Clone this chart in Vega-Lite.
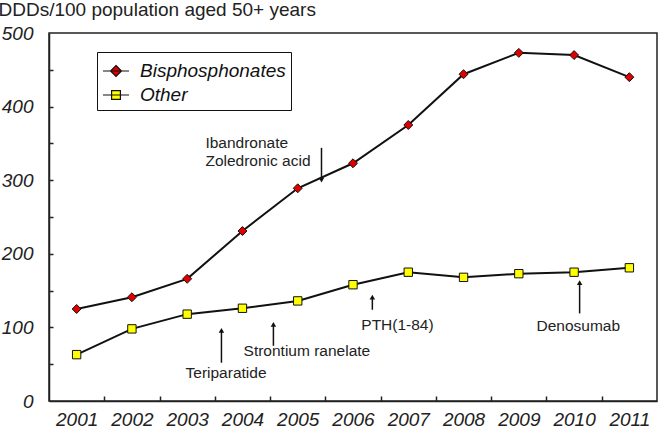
{
  "$schema": "https://vega.github.io/schema/vega-lite/v6.json",
  "width": 608,
  "height": 368,
  "autosize": {"type": "none"},
  "padding": {"left": 49, "top": 33, "right": 1, "bottom": 30},
  "background": "white",
  "config": {
    "font": "Liberation Sans",
    "view": {"stroke": "#222", "strokeWidth": 1.5},
    "axis": {"grid": false, "zindex": 1, "domainColor": "#222", "domainWidth": 1.5, "tickColor": "#222", "tickWidth": 1.5, "labelColor": "#222", "labelFont": "Liberation Sans", "labelFontSize": 19, "labelFontStyle": "italic"}
  },
  "resolve": {"axis": {"x": "independent", "y": "independent"}},
  "datasets": {
    "series": [
      {"year": 2001, "series": "Bisphosphonates", "value": 125},
      {"year": 2002, "series": "Bisphosphonates", "value": 141},
      {"year": 2003, "series": "Bisphosphonates", "value": 166},
      {"year": 2004, "series": "Bisphosphonates", "value": 231},
      {"year": 2005, "series": "Bisphosphonates", "value": 289},
      {"year": 2006, "series": "Bisphosphonates", "value": 323},
      {"year": 2007, "series": "Bisphosphonates", "value": 375},
      {"year": 2008, "series": "Bisphosphonates", "value": 444},
      {"year": 2009, "series": "Bisphosphonates", "value": 473},
      {"year": 2010, "series": "Bisphosphonates", "value": 470},
      {"year": 2011, "series": "Bisphosphonates", "value": 440},
      {"year": 2001, "series": "Other", "value": 63},
      {"year": 2002, "series": "Other", "value": 98},
      {"year": 2003, "series": "Other", "value": 118},
      {"year": 2004, "series": "Other", "value": 126},
      {"year": 2005, "series": "Other", "value": 136},
      {"year": 2006, "series": "Other", "value": 158},
      {"year": 2007, "series": "Other", "value": 175},
      {"year": 2008, "series": "Other", "value": 168},
      {"year": 2009, "series": "Other", "value": 173},
      {"year": 2010, "series": "Other", "value": 175},
      {"year": 2011, "series": "Other", "value": 181}
    ],
    "arrows": [
      {"x": 2005.43, "from": 344, "to": 300, "dir": "down"},
      {"x": 2003.62, "from": 52, "to": 96, "dir": "up"},
      {"x": 2004.56, "from": 75, "to": 104, "dir": "up"},
      {"x": 2006.35, "from": 124, "to": 141, "dir": "up"},
      {"x": 2010.1, "from": 119, "to": 161, "dir": "up"}
    ],
    "notes": [
      {"x": 2003.33, "y": 350.5, "text": "Ibandronate"},
      {"x": 2003.33, "y": 326, "text": "Zoledronic acid"},
      {"x": 2002.97, "y": 38, "text": "Teriparatide"},
      {"x": 2004.02, "y": 68, "text": "Strontium ranelate"},
      {"x": 2006.15, "y": 103, "text": "PTH(1-84)"},
      {"x": 2009.32, "y": 102, "text": "Denosumab"}
    ]
  },
  "layer": [
    {
      "data": {"name": "series"},
      "mark": {"type": "line", "color": "#111", "strokeWidth": 2},
      "encoding": {
        "x": {
          "field": "year", "type": "quantitative",
          "scale": {"domain": [2000.5, 2011.5], "nice": false, "zero": false},
          "axis": {
            "orient": "bottom",
            "title": null,
            "values": [2001, 2002, 2003, 2004, 2005, 2006, 2007, 2008, 2009, 2010, 2011],
            "labelExpr": "'' + datum.value",
            "labelOverlap": false,
            "labelFlush": false,
            "labelPadding": 9,
            "ticks": false
          }
        },
        "y": {
          "field": "value", "type": "quantitative",
          "scale": {"domain": [0, 500], "nice": false},
          "axis": {
            "orient": "left",
            "title": "DDDs/100 population aged 50+ years",
            "titleAngle": 0,
            "titleAlign": "left",
            "titleBaseline": "middle",
            "titleX": -51,
            "titleY": -24,
            "titleFont": "Liberation Sans",
            "titleFontSize": 19,
            "titleFontWeight": "normal",
            "titleColor": "#222",
            "values": [0, 100, 200, 300, 400, 500],
            "labelOverlap": false,
            "labelFlush": false,
            "labelPadding": 16,
            "ticks": false
          }
        },
        "detail": {"field": "series"}
      }
    },
    {
      "data": {"name": "series"},
      "mark": {"type": "point", "opacity": 0},
      "encoding": {
        "x": {
          "field": "year", "type": "quantitative",
          "axis": {
            "orient": "bottom",
            "title": null,
            "offset": -5,
            "domain": false,
            "labels": false,
            "ticks": true,
            "tickSize": 5,
            "values": [2001.5, 2002.5, 2003.5, 2004.5, 2005.5, 2006.5, 2007.5, 2008.5, 2009.5, 2010.5]
          }
        },
        "y": {
          "field": "value", "type": "quantitative",
          "axis": {
            "orient": "left",
            "title": null,
            "offset": -4,
            "domain": false,
            "labels": false,
            "ticks": true,
            "tickSize": 4,
            "values": [50, 100, 150, 200, 250, 300, 350, 400, 450]
          }
        }
      }
    },
    {
      "data": {"name": "series"},
      "transform": [{"filter": "datum.series == 'Bisphosphonates'"}],
      "mark": {"type": "point", "shape": "diamond", "filled": true, "stroke": "#111", "strokeWidth": 1, "opacity": 1, "size": 80},
      "encoding": {
        "x": {"field": "year", "type": "quantitative", "axis": null},
        "y": {"field": "value", "type": "quantitative", "axis": null},
        "fill": {
          "field": "series", "type": "nominal",
          "scale": {"domain": ["Bisphosphonates", "Other"], "range": ["#e00000", "#ffff00"]},
          "legend": {
            "title": null,
            "orient": "none",
            "legendX": 48,
            "legendY": 19,
            "padding": 5,
            "rowPadding": 0,
            "strokeColor": "#111",
            "fillColor": "white",
            "symbolSize": 676,
            "symbolStrokeWidth": 1.2,
            "symbolStrokeColor": "#111",
            "symbolOpacity": 1,
            "labelFont": "Liberation Sans",
            "labelFontSize": 19,
            "labelFontStyle": "italic",
            "labelColor": "#111",
            "labelOffset": 10,
            "encode": {
              "symbols": {
                "update": {
                  "shape": {"signal": "datum.value === 'Bisphosphonates' ? 'M-1,0L1,0M0,-0.42L0.42,0L0,0.42L-0.42,0Z' : 'M-1,0L1,0M-0.34,-0.34L0.34,-0.34L0.34,0.34L-0.34,0.34Z'"},
                  "stroke": {"value": "#111"},
                  "strokeWidth": {"value": 1.2},
                  "fillOpacity": {"value": 1}
                }
              }
            }
          }
        }
      }
    },
    {
      "data": {"name": "series"},
      "transform": [{"filter": "datum.series == 'Other'"}],
      "mark": {"type": "point", "shape": "square", "filled": true, "stroke": "#111", "strokeWidth": 1, "opacity": 1, "size": 70},
      "encoding": {
        "x": {"field": "year", "type": "quantitative", "axis": null},
        "y": {"field": "value", "type": "quantitative", "axis": null},
        "fill": {"field": "series", "type": "nominal"}
      }
    },
    {
      "data": {"name": "arrows"},
      "mark": {"type": "rule", "color": "#111", "strokeWidth": 1.5},
      "encoding": {
        "x": {"field": "x", "type": "quantitative", "axis": null},
        "y": {"field": "from", "type": "quantitative", "axis": null},
        "y2": {"field": "to"}
      }
    },
    {
      "data": {"name": "arrows"},
      "transform": [{"filter": "datum.dir == 'up'"}],
      "mark": {"type": "point", "shape": "triangle-up", "filled": true, "color": "#111", "opacity": 1, "size": 30},
      "encoding": {
        "x": {"field": "x", "type": "quantitative", "axis": null},
        "y": {"field": "to", "type": "quantitative", "axis": null}
      }
    },
    {
      "data": {"name": "arrows"},
      "transform": [{"filter": "datum.dir == 'down'"}],
      "mark": {"type": "point", "shape": "triangle-down", "filled": true, "color": "#111", "opacity": 1, "size": 30},
      "encoding": {
        "x": {"field": "x", "type": "quantitative", "axis": null},
        "y": {"field": "to", "type": "quantitative", "axis": null}
      }
    },
    {
      "data": {"name": "notes"},
      "mark": {"type": "text", "align": "left", "baseline": "middle", "font": "Liberation Sans", "fontSize": 15.5, "color": "#222"},
      "encoding": {
        "x": {"field": "x", "type": "quantitative", "axis": null},
        "y": {"field": "y", "type": "quantitative", "axis": null},
        "text": {"field": "text"}
      }
    }
  ]
}
